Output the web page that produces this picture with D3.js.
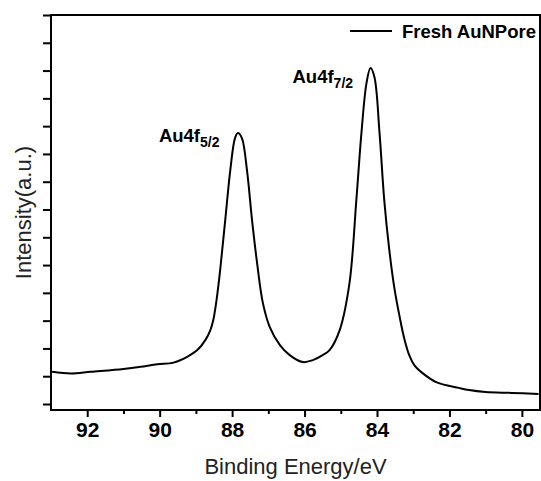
<!DOCTYPE html>
<html>
<head>
<meta charset="utf-8">
<script src="https://cdn.jsdelivr.net/npm/d3@7"></script>
<style>
  body { margin: 0; background: #fff; }
  svg { display: block; }
  text { font-family: "Liberation Sans", Arial, sans-serif; }
</style>
</head>
<body>
<div id="chart"></div>
<script>
// binding energy (eV) and intensity (a.u.)
const energy = [92.97, 92.45, 91.90, 91.00, 90.53, 90.06, 89.62, 89.24, 88.96, 88.74,
  88.60, 88.52, 88.43, 88.33, 88.19, 88.05, 87.92, 87.84, 87.73, 87.59,
  87.45, 87.31, 87.15, 86.96, 86.68, 86.41, 86.05, 85.77, 85.50, 85.31,
  85.03, 84.76, 84.57, 84.43, 84.29, 84.18, 84.07, 83.93, 83.80, 83.66,
  83.52, 83.38, 83.25, 83.11, 82.97, 82.75, 82.37, 81.74, 81.46, 81.00,
  80.28, 79.54];
const intensity = [1.16, 1.10, 1.16, 1.26, 1.34, 1.43, 1.49, 1.70, 1.94, 2.30,
  2.66, 3.02, 3.74, 4.82, 6.62, 8.42, 9.57, 9.75, 9.57, 8.42,
  6.62, 5.07, 3.63, 2.77, 2.12, 1.76, 1.51, 1.58, 1.76, 1.94,
  2.66, 4.35, 7.34, 9.75, 11.55, 12.09, 11.76, 9.75, 7.34, 5.54,
  4.17, 3.17, 2.37, 1.76, 1.40, 1.12, 0.79, 0.58, 0.50, 0.43,
  0.40, 0.36];

const xMajor = [92, 90, 88, 86, 84, 82, 80];
const xMinor = [91, 89, 87, 85, 83, 81];
const yTicks = d3.range(0, 15);

const peaks = [
  { name: "Au4f", sub: "5/2", e: 87.84, i: 9.75 },
  { name: "Au4f", sub: "7/2", e: 84.18, i: 12.09 }
];
const seriesName = "Fresh AuNPore";

const data = energy.map((e, k) => ({ e: e, i: intensity[k] }));

const svgWidth = 541;
const svgHeight = 481;
const margin = { top: 15, right: 1, bottom: 71, left: 51 };
const width = svgWidth - margin.left - margin.right;
const height = svgHeight - margin.top - margin.bottom;

const svg = d3.select("#chart")
  .append("svg")
  .attr("width", svgWidth)
  .attr("height", svgHeight);

const g = svg.append("g")
  .attr("transform", `translate(${margin.left},${margin.top})`);

const xScale = d3.scaleLinear()
  .domain([93, 79.5])
  .range([0, width]);

const yScale = d3.scaleLinear()
  .domain([-0.216, 14])
  .range([height, 0]);

svg.append("clipPath").attr("id", "clip")
  .append("rect").attr("width", width).attr("height", height);

// curve
const line = d3.line()
  .x(d => xScale(d.e))
  .y(d => yScale(d.i))
  .curve(d3.curveCatmullRom.alpha(0.5));

g.append("path")
  .datum(data)
  .attr("clip-path", "url(#clip)")
  .attr("fill", "none")
  .attr("stroke", "#000")
  .attr("stroke-width", 2)
  .attr("stroke-linejoin", "round")
  .attr("d", line);

// x axis, major and minor ticks
const xAxis = g.append("g")
  .attr("transform", `translate(0,${height})`)
  .call(d3.axisBottom(xScale).tickValues(xMajor).tickSize(7).tickPadding(5).tickFormat(d3.format("d")));
xAxis.select(".domain").remove();
xAxis.selectAll("line").attr("stroke-width", 2);
xAxis.selectAll("text")
  .attr("font-size", 21)
  .attr("font-weight", "bold")
  .attr("fill", "#000");

const xMinorAxis = g.append("g")
  .attr("transform", `translate(0,${height})`)
  .call(d3.axisBottom(xScale).tickValues(xMinor).tickSize(4).tickFormat(""));
xMinorAxis.select(".domain").remove();
xMinorAxis.selectAll("line").attr("stroke-width", 2);

// y axis, ticks only
const yAxis = g.append("g")
  .call(d3.axisLeft(yScale).tickValues(yTicks).tickSize(8).tickFormat(""));
yAxis.select(".domain").remove();
yAxis.selectAll("line").attr("stroke-width", 2);

// frame
g.append("rect")
  .attr("width", width)
  .attr("height", height)
  .attr("fill", "none")
  .attr("stroke", "#000")
  .attr("stroke-width", 2);

// axis titles
svg.append("text")
  .attr("x", margin.left + width / 2)
  .attr("y", 474)
  .attr("text-anchor", "middle")
  .attr("font-size", 22)
  .attr("fill", "#222")
  .text("Binding Energy/eV");

svg.append("text")
  .attr("transform", `translate(31,${margin.top + height / 2}) rotate(-90)`)
  .attr("text-anchor", "middle")
  .attr("font-size", 22)
  .attr("fill", "#222")
  .text("Intensity(a.u.)");

// peak labels
const labelOffset = [{ dx: -79, dy: 9 }, { dx: -78, dy: 15 }];
peaks.forEach((p, k) => {
  const t = g.append("text")
    .attr("x", xScale(p.e) + labelOffset[k].dx)
    .attr("y", yScale(p.i) + labelOffset[k].dy)
    .attr("font-size", 18.5)
    .attr("font-weight", "bold")
    .attr("fill", "#000");
  t.append("tspan").text(p.name);
  t.append("tspan")
    .attr("font-size", 14)
    .attr("dy", 5)
    .text(p.sub);
});

// legend
const legend = g.append("g").attr("transform", `translate(${350 - margin.left},${31 - margin.top})`);
legend.append("line")
  .attr("x1", 0).attr("x2", 42)
  .attr("stroke", "#000").attr("stroke-width", 2);
legend.append("text")
  .attr("x", 52)
  .attr("y", 6.5)
  .attr("font-size", 18.5)
  .attr("font-weight", "bold")
  .attr("fill", "#000")
  .text(seriesName);
</script>
</body>
</html>
